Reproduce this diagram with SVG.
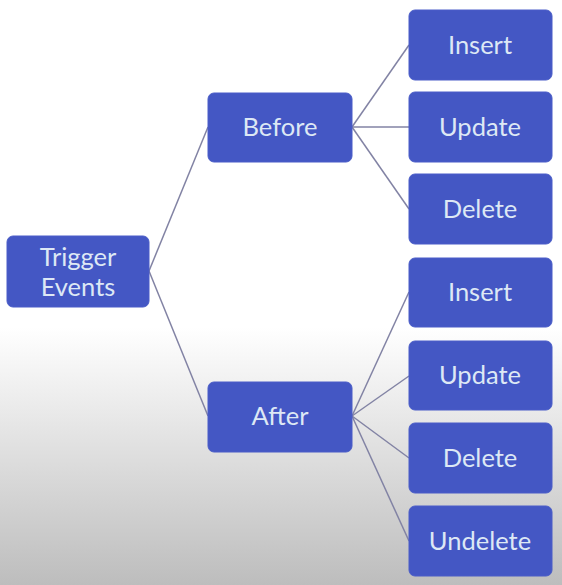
<svg xmlns="http://www.w3.org/2000/svg" width="562" height="585" viewBox="0 0 562 585">
<defs>
<linearGradient id="bg" x1="0" y1="0" x2="0" y2="1">
<stop offset="0" stop-color="#ffffff"/>
<stop offset="0.56" stop-color="#ffffff"/>
<stop offset="1" stop-color="#bdbdbd"/>
</linearGradient>
<style>
.box{fill:#4457c4;stroke:#4a5dc8;stroke-width:1}
.lbl{fill:#dde8f5;font-family:Lato,"Open Sans",sans-serif;font-size:25.5px;text-anchor:middle}
.con line{stroke:#8283a4;stroke-width:1.5}
</style>
</defs>
<rect x="0" y="0" width="562" height="585" fill="url(#bg)"/>
<g class="con" id="connectors">
<line x1="149" y1="271" x2="208" y2="127"/>
<line x1="149" y1="271" x2="208" y2="416"/>
<line x1="352" y1="127" x2="409" y2="45"/>
<line x1="352" y1="127" x2="409" y2="127"/>
<line x1="352" y1="127" x2="409" y2="209"/>
<line x1="352" y1="416" x2="409" y2="292"/>
<line x1="352" y1="416" x2="409" y2="376"/>
<line x1="352" y1="416" x2="409" y2="458"/>
<line x1="352" y1="416" x2="409" y2="541"/>
</g>
<g id="trigger"><rect class="box" x="7" y="236" width="142" height="71" rx="6"/><text class="lbl" x="78" y="266">Trigger</text><text class="lbl" x="78" y="296">Events</text></g>
<g id="before"><rect class="box" x="208" y="93" width="144" height="69" rx="6"/><text class="lbl" x="280" y="136">Before</text></g>
<g id="after"><rect class="box" x="208" y="382" width="144" height="70" rx="6"/><text class="lbl" x="280" y="425">After</text></g>
<g id="b-insert"><rect class="box" x="409" y="10" width="143" height="70" rx="6"/><text class="lbl" x="480" y="54">Insert</text></g>
<g id="b-update"><rect class="box" x="409" y="92" width="143" height="70" rx="6"/><text class="lbl" x="480" y="136">Update</text></g>
<g id="b-delete"><rect class="box" x="409" y="174" width="143" height="70" rx="6"/><text class="lbl" x="480" y="218">Delete</text></g>
<g id="a-insert"><rect class="box" x="409" y="258" width="143" height="69" rx="6"/><text class="lbl" x="480" y="301">Insert</text></g>
<g id="a-update"><rect class="box" x="409" y="341" width="143" height="69" rx="6"/><text class="lbl" x="480" y="384">Update</text></g>
<g id="a-delete"><rect class="box" x="409" y="423" width="143" height="70" rx="6"/><text class="lbl" x="480" y="467">Delete</text></g>
<g id="a-undelete"><rect class="box" x="409" y="506" width="143" height="70" rx="6"/><text class="lbl" x="480" y="550">Undelete</text></g>
</svg>
